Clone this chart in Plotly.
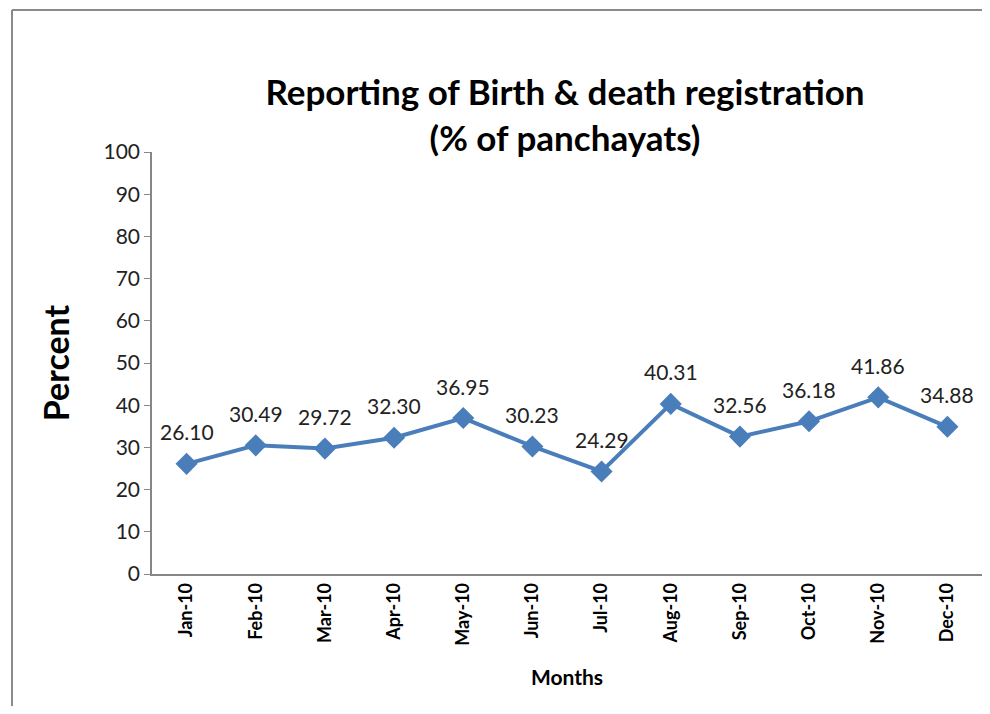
import plotly.graph_objects as go

months = ["Jan-10", "Feb-10", "Mar-10", "Apr-10", "May-10", "Jun-10",
          "Jul-10", "Aug-10", "Sep-10", "Oct-10", "Nov-10", "Dec-10"]
percent = [26.10, 30.49, 29.72, 32.30, 36.95, 30.23,
           24.29, 40.31, 32.56, 36.18, 41.86, 34.88]
y_ticks = list(range(0, 101, 10))

FONT = "Lato, Calibri, sans-serif"
LINE = "#4a7ebb"
AXIS = "#868686"

# page has an 8px body margin; figure is sized/offset to compensate
W, H = 974, 698
L, T, PW, PH = 144, 144, 830, 422
R = W - L - PW
B = H - T - PH

fig = go.Figure()
fig.add_trace(go.Scatter(
    x=months, y=percent, mode="lines+markers",
    line=dict(color=LINE, width=4),
    marker=dict(symbol="diamond", size=17, color=LINE),
    showlegend=False, hoverinfo="x+y",
))

for m, v in zip(months, percent):
    fig.add_annotation(x=m, y=v, text=f"{v:.2f}", showarrow=False,
                       yshift=32, yanchor="middle",
                       font=dict(family=FONT, size=21, color="#222222"))

# chart frame: only top and left edges are visible in the picture
fx0 = (4 - L) / PW
fy1 = (T + PH - 2) / PH
frame = dict(color="#8a8a8a", width=2)
fig.add_shape(type="line", xref="paper", yref="paper",
              x0=fx0, x1=(W - L) / PW, y0=fy1, y1=fy1, line=frame, layer="below")
fig.add_shape(type="line", xref="paper", yref="paper",
              x0=fx0, x1=fx0, y0=fy1, y1=-B / PH, line=frame, layer="below")

fig.update_layout(
    width=W, height=H,
    margin=dict(l=L, r=R, t=T, b=B),
    paper_bgcolor="white", plot_bgcolor="white",
    title=dict(text="<b>Reporting of Birth & death registration<br>(% of panchayats)</b>",
               x=(565 - 8) / W, xanchor="center", y=1 - (105 - 8) / H, yanchor="middle",
               font=dict(family=FONT, size=35, color="black")),
    xaxis=dict(
        type="category", range=[-0.5, 11.5],
        showline=True, linecolor=AXIS, linewidth=1.5,
        showgrid=False, ticks="", tickangle=-90,
        tickfont=dict(family=FONT, size=18, color="black", weight="bold"),
        title=dict(text="<b>Months</b>", standoff=26,
                   font=dict(family=FONT, size=21, color="black")),
    ),
    yaxis=dict(
        range=[0, 100], tickvals=y_ticks,
        showline=True, linecolor=AXIS, linewidth=1.5,
        showgrid=False, ticks="outside", ticklen=6, tickcolor=AXIS,
        tickfont=dict(family=FONT, size=21, color="#222222"),
        title=dict(text="<b>Percent</b>", standoff=24,
                   font=dict(family=FONT, size=34, color="black")),
        zeroline=False,
    ),
)

fig.write_html("out.html")
